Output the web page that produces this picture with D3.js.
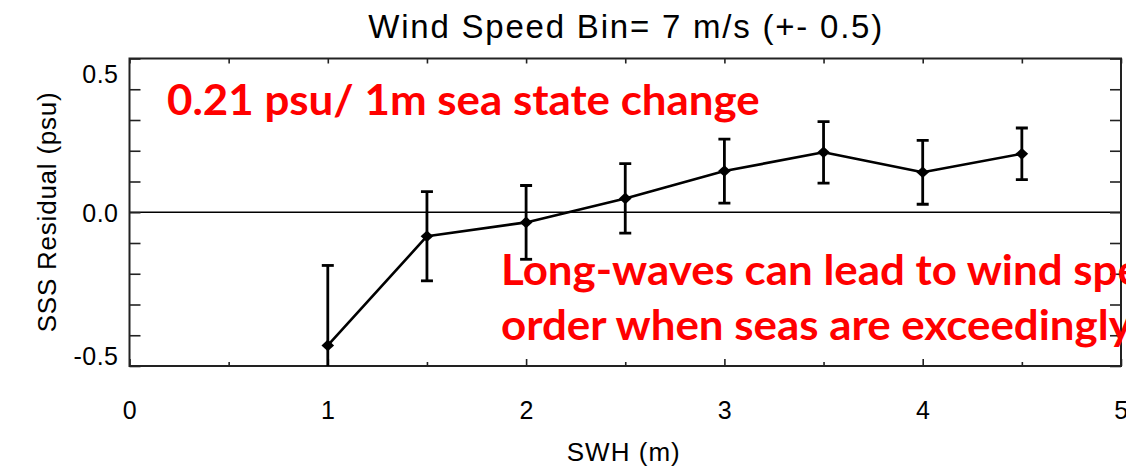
<!DOCTYPE html>
<html>
<head>
<meta charset="utf-8">
<script src="https://cdn.jsdelivr.net/npm/d3@7"></script>
<style>
  html, body { margin: 0; padding: 0; background: #fff; overflow: hidden; }
  svg { display: block; }
</style>
</head>
<body>
<svg id="chart" width="1126" height="467"></svg>
<script>
// SWH bins (m), mean SSS residual (psu) and its spread per bin
const swh      = [1, 1.5, 2, 2.5, 3, 3.5, 4, 4.5];
const residual = [-0.433, -0.078, -0.033, 0.045, 0.134, 0.195, 0.13, 0.19];
const spread   = [0.26, 0.145, 0.12, 0.113, 0.104, 0.1, 0.104, 0.084];

const xMajorTicks = [0, 1, 2, 3, 4, 5];
const xMinorTicks = [0.5, 1.5, 2.5, 3.5, 4.5];
const yTicks      = [-0.5, -0.4, -0.3, -0.2, -0.1, 0, 0.1, 0.2, 0.3, 0.4, 0.5];
const yLabels     = { "-0.5": "-0.5", "0": "0.0", "0.5": "0.5" };

const titleText  = "Wind Speed Bin= 7 m/s (+- 0.5)";
const xTitleText = "SWH (m)";
const yTitleText = "SSS Residual (psu)";
const noteTop    = "0.21 psu/ 1m sea state change";
const noteLines  = ["Long-waves can lead to wind speed errors of this",
                    "order when seas are exceedingly high"];

(function () {
const svg = d3.select("#chart");
const pL = 129.5, pR = 1121, pT = 58.5, pB = 366;

const x = d3.scaleLinear().domain([0, 5]).range([pL, pR]);
const y = d3.scaleLinear().domain([-0.5, 0.5]).range([pB, pT]);

const axisFont = "'Liberation Sans', Arial, Helvetica, sans-serif";
const axisColor = "#222";

// fit a text element to a given width by adjusting glyph spacing
function fitWidth(sel, w, mode) {
  sel.attr("textLength", w).attr("lengthAdjust", mode || "spacing");
}

// clip region for the data marks
svg.append("defs").append("clipPath").attr("id", "plotClip")
  .append("rect").attr("x", pL).attr("y", pT)
  .attr("width", pR - pL).attr("height", pB - pT);

// zero reference line
svg.append("line")
  .attr("x1", x(0)).attr("x2", x(5))
  .attr("y1", y(0)).attr("y2", y(0))
  .attr("stroke", "#000").attr("stroke-width", 1.6);

function styleAxis(g) {
  g.select(".domain").remove();
  g.selectAll(".tick line").attr("stroke", axisColor).attr("stroke-width", 1.6);
  g.selectAll(".tick text")
    .attr("fill", "#000")
    .attr("font-family", axisFont)
    .attr("font-size", 25)
    .attr("letter-spacing", 0.5);
}

// bottom axis: integer ticks with labels, half ticks without
svg.append("g").attr("transform", `translate(0,${pB})`)
  .call(d3.axisBottom(x).tickValues(xMajorTicks).tickSize(-7).tickPadding(35)
        .tickFormat(d3.format("d")))
  .call(styleAxis);
svg.append("g").attr("transform", `translate(0,${pB})`)
  .call(d3.axisBottom(x).tickValues(xMinorTicks).tickSize(-4).tickFormat(""))
  .call(styleAxis);

// top axis ticks
svg.append("g").attr("transform", `translate(0,${pT})`)
  .call(d3.axisTop(x).tickValues(xMajorTicks.concat(xMinorTicks)).tickSize(-5).tickFormat(""))
  .call(styleAxis);

// left axis with labels at -0.5, 0.0, 0.5
const yAxisG = svg.append("g").attr("transform", `translate(${pL},0)`)
  .call(d3.axisLeft(y).tickValues(yTicks).tickSize(-11).tickPadding(11)
        .tickFormat(d => yLabels[String(Math.round(d * 10) / 10)] || ""))
  .call(styleAxis);
yAxisG.selectAll(".tick text")
  .attr("dy", d => d >= 0.5 ? "0.95em" : (d <= -0.5 ? "-0.05em" : "0.35em"));

// right axis ticks
svg.append("g").attr("transform", `translate(${pR},0)`)
  .call(d3.axisRight(y).tickValues(yTicks).tickSize(-11).tickFormat(""))
  .call(styleAxis);

// plot frame
svg.append("rect")
  .attr("x", pL).attr("y", pT)
  .attr("width", pR - pL).attr("height", pB - pT)
  .attr("fill", "none").attr("stroke", axisColor).attr("stroke-width", 2);

// data marks
const data = swh.map((v, i) => ({ x: v, y: residual[i], e: spread[i] }));
const marks = svg.append("g").attr("clip-path", "url(#plotClip)");

marks.append("path")
  .datum(data)
  .attr("fill", "none").attr("stroke", "#000").attr("stroke-width", 2.6)
  .attr("stroke-linejoin", "round")
  .attr("d", d3.line().x(d => x(d.x)).y(d => y(d.y)));

const capHalf = 6;
const bars = marks.selectAll(".err").data(data).join("g").attr("class", "err")
  .attr("stroke", "#000").attr("stroke-width", 2.8);
bars.append("line")
  .attr("x1", d => x(d.x)).attr("x2", d => x(d.x))
  .attr("y1", d => y(d.y + d.e)).attr("y2", d => y(d.y - d.e));
bars.append("line")
  .attr("x1", d => x(d.x) - capHalf).attr("x2", d => x(d.x) + capHalf)
  .attr("y1", d => y(d.y + d.e)).attr("y2", d => y(d.y + d.e));
bars.append("line")
  .attr("x1", d => x(d.x) - capHalf).attr("x2", d => x(d.x) + capHalf)
  .attr("y1", d => y(d.y - d.e)).attr("y2", d => y(d.y - d.e));

// diamond markers
const diamond = {
  draw(ctx, size) {
    const w = Math.sqrt(size) / 2, h = w * 0.92;
    ctx.moveTo(0, -h); ctx.lineTo(w, 0); ctx.lineTo(0, h); ctx.lineTo(-w, 0); ctx.closePath();
  }
};
marks.selectAll(".pt").data(data).join("path").attr("class", "pt")
  .attr("transform", d => `translate(${x(d.x)},${y(d.y)})`)
  .attr("d", d3.symbol().type(diamond).size(160))
  .attr("fill", "#000");

// title and axis titles
fitWidth(svg.append("text")
  .attr("x", (pL + pR) / 2).attr("y", 38)
  .attr("text-anchor", "middle")
  .attr("font-family", axisFont).attr("font-size", 33)
  .attr("fill", "#000").text(titleText), 514);

fitWidth(svg.append("text")
  .attr("x", (pL + pR) / 2 - 2).attr("y", 461)
  .attr("text-anchor", "middle")
  .attr("font-family", axisFont).attr("font-size", 26)
  .attr("fill", "#000").text(xTitleText), 113);

fitWidth(svg.append("text")
  .attr("transform", `translate(56,${(pT + pB) / 2}) rotate(-90)`)
  .attr("text-anchor", "middle")
  .attr("font-family", axisFont).attr("font-size", 26)
  .attr("fill", "#000").text(yTitleText), 240);

// red annotations: tall bold face, condensed to the measured line width
const noteFont = "Lato, 'Open Sans', sans-serif";
const noteSize = 42;
const note1 = svg.append("text")
  .attr("x", 167).attr("y", 115)
  .attr("font-family", noteFont).attr("font-weight", 700)
  .attr("font-size", noteSize).attr("fill", "#ff0000")
  .text(noteTop);
const natural = note1.node().getComputedTextLength();
const squeeze = 593 / natural;
note1.attr("transform", `translate(167,115) scale(${squeeze},1) translate(-167,-115)`);

const noteY = [285, 340];
svg.selectAll(".note2").data(noteLines).join("text").attr("class", "note2")
  .attr("x", 501).attr("y", (d, i) => noteY[i])
  .attr("transform", (d, i) => `translate(501,${noteY[i]}) scale(${squeeze},1) translate(-501,${-noteY[i]})`)
  .attr("font-family", noteFont).attr("font-weight", 700)
  .attr("font-size", noteSize).attr("fill", "#ff0000")
  .text(d => d);
})();
</script>
</body>
</html>
